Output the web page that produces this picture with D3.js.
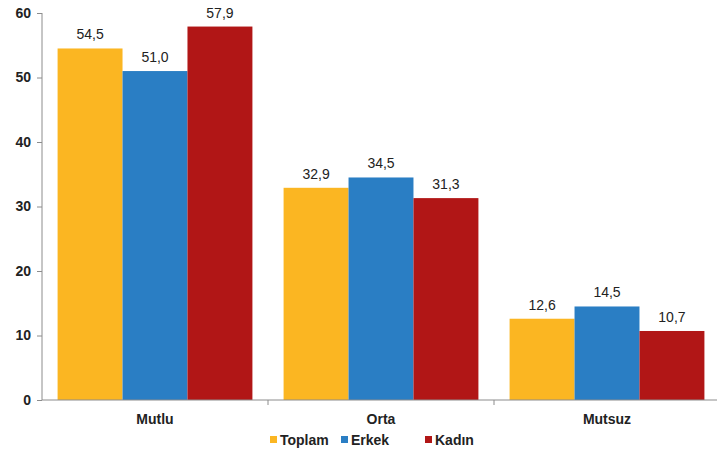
<!DOCTYPE html>
<html><head><meta charset="utf-8">
<script src="https://cdn.jsdelivr.net/npm/d3@7"></script>
<style>body{margin:0;background:#fff}svg{display:block;font-family:"Liberation Sans",Arial,sans-serif}</style>
</head><body><svg id="c" width="717" height="454"></svg>
<script>
const categories = ["Mutlu", "Orta", "Mutsuz"];
const seriesNames = ["Toplam", "Erkek", "Kadın"];
const toplam = [54.5, 32.9, 12.6];
const erkek = [51.0, 34.5, 14.5];
const kadin = [57.9, 31.3, 10.7];
const yTicks = [0, 10, 20, 30, 40, 50, 60];
const colors = ["#FBB622", "#2A7EC4", "#B11616"];

const seriesValues = [toplam, erkek, kadin];
const svg = d3.select("#c");
const x0 = d3.scaleBand().domain(categories).range([42, 720]).paddingInner(0).paddingOuter(0);
const x1 = d3.scaleBand().domain(seriesNames).range([0, x0.bandwidth()]).paddingInner(0).paddingOuter(0.24);
const y = d3.scaleLinear().domain([0, 60]).range([400, 13]);

// y axis
const yAxis = svg.append("g").attr("transform", "translate(42,0)")
  .call(d3.axisLeft(y).tickValues(yTicks).tickSize(5).tickPadding(6));
yAxis.select(".domain").attr("stroke", "#8c8c8c").attr("d", `M0,${y(60)}V${y(0)}`);
yAxis.selectAll(".tick line").attr("stroke", "#8c8c8c");
yAxis.selectAll("text").attr("font-size", 14).attr("font-weight", "bold").attr("fill", "#222")
  .attr("font-family", '"Liberation Sans",Arial,sans-serif');

// bars
const groups = svg.append("g").selectAll("g").data(categories).join("g")
  .attr("transform", d => `translate(${x0(d)},0)`);
groups.each(function(cat, ci) {
  const g = d3.select(this);
  seriesNames.forEach((s, si) => {
    const v = seriesValues[si][ci];
    g.append("rect").attr("x", x1(s)).attr("width", x1.bandwidth())
      .attr("y", y(v)).attr("height", y(0) - y(v)).attr("fill", colors[si]);
    g.append("text").attr("x", x1(s) + x1.bandwidth() / 2).attr("y", y(v) - 9)
      .attr("text-anchor", "middle").attr("font-size", 14).attr("fill", "#222")
      .text(d3.format(".1f")(v).replace(".", ","));
  });
});

// x axis
const xAxisG = svg.append("g").attr("transform", `translate(0,${y(0)})`);
xAxisG.append("line").attr("x1", 42).attr("x2", 717).attr("stroke", "#8c8c8c");
categories.slice(1).forEach(c => {
  xAxisG.append("line").attr("x1", x0(c)).attr("x2", x0(c)).attr("y1", 0).attr("y2", 5).attr("stroke", "#8c8c8c");
});
xAxisG.selectAll("text.cat").data(categories).join("text").attr("class", "cat")
  .attr("x", d => x0(d) + x0.bandwidth() / 2).attr("y", 24)
  .attr("text-anchor", "middle").attr("font-size", 14).attr("font-weight", "bold").attr("fill", "#222")
  .text(d => d);

// legend
const legendX = [270, 341, 425];
const legend = svg.append("g");
seriesNames.forEach((s, i) => {
  legend.append("rect").attr("x", legendX[i]).attr("y", 436).attr("width", 7).attr("height", 7).attr("fill", colors[i]);
  legend.append("text").attr("x", legendX[i] + 10).attr("y", 444.5).attr("font-size", 14).attr("font-weight", "bold")
    .attr("fill", "#222").text(s);
});
</script></body></html>
